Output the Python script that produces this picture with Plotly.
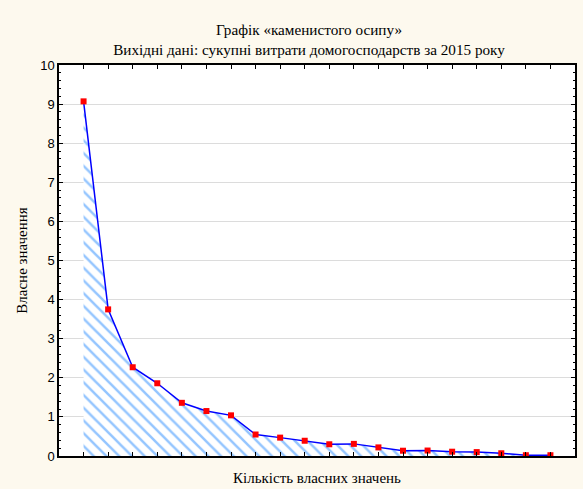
import plotly.graph_objects as go

components = list(range(1, 21))
eigenvalues = [9.07, 3.75, 2.27, 1.86, 1.36, 1.15, 1.04, 0.55, 0.47, 0.39,
               0.30, 0.31, 0.22, 0.135, 0.14, 0.11, 0.10, 0.07, 0.02, 0.02]
y_ticks = list(range(0, 11))

title_text = "Графік «каменистого осипу»<br>Вихідні дані: сукупні витрати домогосподарств за 2015 року"
x_title = "Кількість власних значень"
y_title = "Власне значення"

fig = go.Figure()
fig.add_trace(go.Scatter(
    x=components, y=eigenvalues, mode="none", fill="tozeroy",
    fillcolor="rgba(0,0,0,0)",
    fillpattern=dict(shape="\\", fgcolor="#2a8cff", bgcolor="white", size=9, solidity=0.28),
    hoverinfo="skip", showlegend=False))
fig.add_trace(go.Scatter(
    x=components, y=eigenvalues, mode="lines+markers",
    line=dict(color="#0000ff", width=1.5),
    marker=dict(symbol="square", size=6, color="#ff0000"),
    showlegend=False))

serif = "Liberation Serif, Times New Roman, serif"
fig.update_layout(
    width=583, height=489,
    margin=dict(l=59, r=8, t=65, b=33, autoexpand=False),
    paper_bgcolor="#fdf9ee", plot_bgcolor="white",
    title=dict(text=title_text, x=309 / 583, xanchor="center", y=1 - 35 / 489, yanchor="middle",
               font=dict(family=serif, size=15.2, color="black")),
    font=dict(family="Liberation Sans, Arial, sans-serif", size=13, color="black"),
)
fig.update_xaxes(
    range=[0, 21], tickvals=components, showticklabels=False,
    ticks="inside", ticklen=4, tickcolor="black",
    showgrid=False, zeroline=False, automargin=False,
    showline=True, linecolor="black", linewidth=1.5, mirror="allticks",
    title=dict(text=x_title, font=dict(family=serif, size=15), standoff=16),
)
fig.update_yaxes(
    range=[0, 10], tickvals=y_ticks, ticktext=[str(v) for v in y_ticks],
    ticks="inside", ticklen=4, tickcolor="black", automargin=False,
    minor=dict(dtick=0.2, ticks="inside", ticklen=2, tickcolor="black", showgrid=False),
    showgrid=True, gridcolor="#dcdcdc", gridwidth=1, zeroline=False,
    showline=True, linecolor="black", linewidth=1.5, mirror="allticks",
    title=dict(text=y_title, font=dict(family=serif, size=15), standoff=9),
)
fig.write_html("out.html", config={"displayModeBar": False},
               post_script="document.body.style.margin='0';document.body.style.background='#fdf9ee';")
